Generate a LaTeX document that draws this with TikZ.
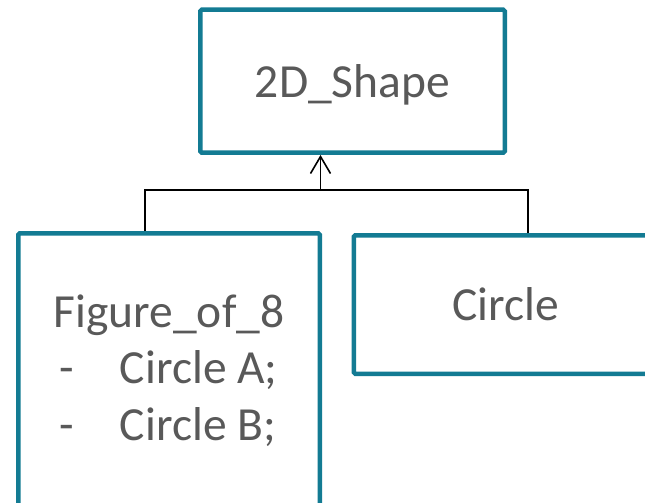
\documentclass[tikz,border=0pt]{standalone}
\usepackage{fontspec}
\setmainfont{Carlito}
\usetikzlibrary{arrows.meta}
\definecolor{boxteal}{HTML}{137B93}
\definecolor{txtgrey}{HTML}{595959}
\begin{document}
\begin{tikzpicture}[x=1pt,y=-1pt,
  classbox/.style={draw=boxteal, line width=4.5pt, rounded corners=1.5pt, fill=white,
    text=txtgrey, font=\fontsize{47.5}{56.5}\selectfont, inner sep=0pt,
    text height=32pt, text depth=0pt},
  boxtext/.style={text=txtgrey, font=\fontsize{47.5}{56.5}\selectfont, inner sep=0pt, align=center},
  conn/.style={black, line width=1.6pt},
  inherit/.style={conn, -{Straight Barb[length=17pt,width=20pt,line width=1.6pt]}}]
\useasboundingbox (0,0) rectangle (645,503);
\node[classbox, minimum width=304.5pt, minimum height=143pt] (shape) at (352.5,81.2) {2D\_Shape};
\node[classbox, minimum width=303.5pt, minimum height=138.5pt] (circle) at (505.5,304.5) {Circle};
\node[classbox, minimum width=301.5pt, minimum height=275pt] (figure) at (169,370.75) {};
\node[boxtext, anchor=base] (figtext) at (169,440) {Figure\_of\_8\\
  \makebox[220pt][l]{\makebox[61pt][l]{-}Circle A;}\\
  \makebox[220pt][l]{\makebox[61pt][l]{-}Circle B;}};
\coordinate (j) at (320.5,190);
\coordinate (hl) at (145,190);
\coordinate (hr) at (528,190);
\draw[inherit] (j) -- (j |- shape.south);
\draw[conn] (hl |- figure.north) -- (hl) -- (hr) -- (hr |- circle.north);
\end{tikzpicture}
\end{document}
